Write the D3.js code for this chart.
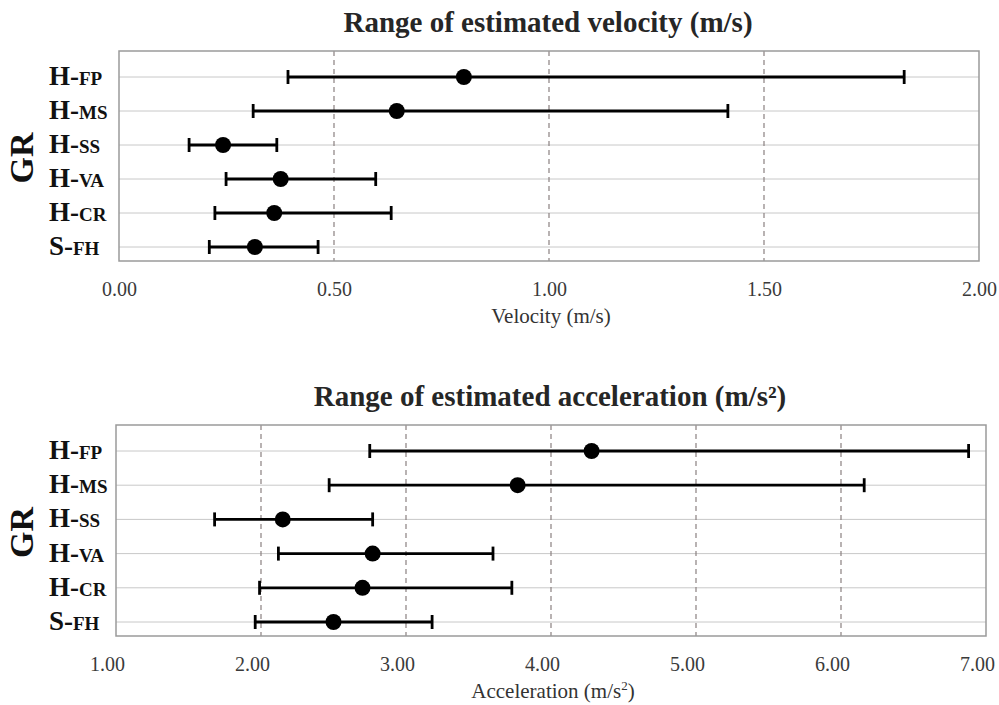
<!DOCTYPE html>
<html>
  <head>
    <meta charset="UTF-8" />
    <script src="https://d3js.org/d3.v7.min.js"></script>
    <style>
      body { margin: 0; background: #fff; }
      text { font-family: "Liberation Serif", "Times New Roman", serif; }
    </style>
  </head>
  <body>
    <svg width="999" height="705"></svg>
    <script>
      // data
      const groups = ["H-FP", "H-MS", "H-SS", "H-VA", "H-CR", "S-FH"]

      const velMin = [0.393, 0.312, 0.163, 0.249, 0.223, 0.21]
      const velMean = [0.802, 0.646, 0.242, 0.376, 0.361, 0.316]
      const velMax = [1.826, 1.416, 0.367, 0.597, 0.633, 0.463]
      const velTicks = [0, 0.5, 1, 1.5, 2]

      const accMin = [2.75, 2.47, 1.68, 2.12, 1.99, 1.96]
      const accMean = [4.28, 3.77, 2.15, 2.77, 2.7, 2.5]
      const accMax = [6.88, 6.16, 2.77, 3.6, 3.73, 3.18]
      const accTicks = [1, 2, 3, 4, 5, 6, 7]

      const svg = d3.select("svg")
      const fmt = d3.format(".2f")

      function drawPanel(p) {
        const w = p.right - p.left
        const h = p.bottom - p.top
        const g = svg.append("g").attr("transform", "translate(" + p.left + "," + p.top + ")")

        const x = d3.scaleLinear().domain(d3.extent(p.ticks)).range([0, w])
        const y = d3.scalePoint().domain(groups).range([26, h - 14])

        // title
        svg.append("text")
          .attr("x", p.left + w / 2 - 1)
          .attr("y", p.top - 19)
          .attr("text-anchor", "middle")
          .attr("font-size", 29)
          .attr("font-weight", "bold")
          .attr("fill", "#262626")
          .text(p.title)

        // horizontal row lines
        g.selectAll(".row")
          .data(groups)
          .enter()
          .append("line")
          .attr("x1", 0)
          .attr("x2", w)
          .attr("y1", (d) => y(d))
          .attr("y2", (d) => y(d))
          .attr("stroke", "#c8c8c8")
          .attr("stroke-width", 1)

        // dashed vertical lines
        g.selectAll(".vgrid")
          .data(p.ticks.slice(1, -1))
          .enter()
          .append("line")
          .attr("x1", (d) => x(d))
          .attr("x2", (d) => x(d))
          .attr("y1", 0)
          .attr("y2", h)
          .attr("stroke", "#8a8080")
          .attr("stroke-width", 1.2)
          .attr("stroke-dasharray", "5,4")

        // frame
        g.append("rect")
          .attr("width", w)
          .attr("height", h)
          .attr("fill", "none")
          .attr("stroke", "#9a9a9a")
          .attr("stroke-width", 1.5)

        // x tick labels
        const ax = g.append("g")
          .attr("transform", "translate(0," + h + ")")
          .call(d3.axisBottom(x).tickValues(p.ticks).tickFormat(fmt).tickSize(0).tickPadding(21))
        ax.select(".domain").remove()
        ax.selectAll("text")
          .style("font-family", "Liberation Serif, serif")
          .attr("font-size", 20)
          .attr("fill", "#3a3a3a")
          .attr("dx", p.labelShift)

        // x axis title
        const t = svg.append("text")
          .attr("x", p.left + w / 2 + 2)
          .attr("y", p.bottom + 62)
          .attr("text-anchor", "middle")
          .attr("font-size", 21)
          .attr("fill", "#333")
          .text(p.xTitle)
        if (p.xSup) t.append("tspan").attr("font-size", 13).attr("dy", -8).text(p.xSup)
        if (p.xSup) t.append("tspan").attr("dy", 8).text(")")

        // group labels, small caps style
        const lab = svg.selectAll(".lab" + p.top)
          .data(groups)
          .enter()
          .append("text")
          .attr("x", 49)
          .attr("y", (d) => p.top + y(d) + 8)
          .attr("font-size", 27)
          .attr("font-weight", "bold")
          .attr("fill", "#111")
        lab.append("tspan").text((d) => d.slice(0, 2))
        lab.append("tspan").attr("font-size", 19).text((d) => d.slice(2))

        svg.append("text")
          .attr("transform", "translate(33," + (p.top + h / 2 + 2) + ") rotate(-90)")
          .attr("text-anchor", "middle")
          .attr("font-size", 34)
          .attr("font-weight", "bold")
          .attr("fill", "#111")
          .text("GR")

        // error bars
        const bars = g.selectAll(".bar")
          .data(groups)
          .enter()
          .append("g")
        bars.append("line")
          .attr("x1", (d, i) => x(p.min[i]))
          .attr("x2", (d, i) => x(p.max[i]))
          .attr("y1", (d) => y(d))
          .attr("y2", (d) => y(d))
          .attr("stroke", "#000")
          .attr("stroke-width", 2.8)
        bars.append("line")
          .attr("x1", (d, i) => x(p.min[i]))
          .attr("x2", (d, i) => x(p.min[i]))
          .attr("y1", (d) => y(d) - 7)
          .attr("y2", (d) => y(d) + 7)
          .attr("stroke", "#000")
          .attr("stroke-width", 2.8)
        bars.append("line")
          .attr("x1", (d, i) => x(p.max[i]))
          .attr("x2", (d, i) => x(p.max[i]))
          .attr("y1", (d) => y(d) - 7)
          .attr("y2", (d) => y(d) + 7)
          .attr("stroke", "#000")
          .attr("stroke-width", 2.8)
        bars.append("circle")
          .attr("cx", (d, i) => x(p.mean[i]))
          .attr("cy", (d) => y(d))
          .attr("r", 8)
          .attr("fill", "#000")
      }

      drawPanel({
        left: 119, right: 979, top: 51, bottom: 261,
        ticks: velTicks, min: velMin, mean: velMean, max: velMax,
        title: "Range of estimated velocity (m/s)",
        xTitle: "Velocity (m/s)", labelShift: 0
      })

      drawPanel({
        left: 116, right: 986, top: 425, bottom: 636,
        ticks: accTicks, min: accMin, mean: accMean, max: accMax,
        title: "Range of estimated acceleration (m/s²)",
        xTitle: "Acceleration (m/s", xSup: "2", labelShift: -9
      })
    </script>
  </body>
</html>
